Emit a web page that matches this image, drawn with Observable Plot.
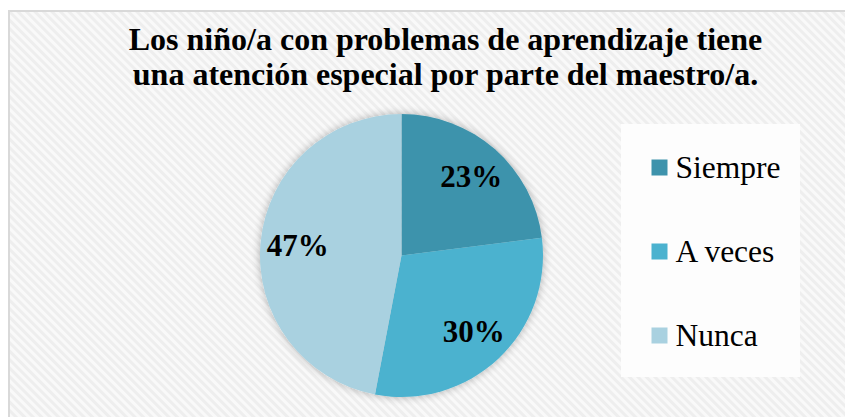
<!DOCTYPE html>
<html>
<head>
<meta charset="utf-8">
<script src="https://cdn.jsdelivr.net/npm/d3@7"></script>
<script src="https://cdn.jsdelivr.net/npm/@observablehq/plot@0.6"></script>
<style>
  html, body { margin: 0; padding: 0; background: #ffffff; }
  #chart svg { display: block; }
</style>
</head>
<body>
<div id="chart"></div>
<script>
const titleLines = ["Los niño/a con problemas de aprendizaje tiene", "una atención especial por parte del maestro/a."];
const categories = ["Siempre", "A veces", "Nunca"];
const values = [23, 30, 47];
const labels = ["23%", "30%", "47%"];
const colors = ["#3E93AC", "#4BB2CF", "#A9D1E0"];

const W = 845, H = 417;
const cx = 401.5, cy = 255.5, R = 141.5;
const serif = "'Liberation Serif', 'Times New Roman', serif";

const data = categories.map((c, i) => ({category: c, value: values[i], label: labels[i]}));
const arcs = d3.pie().sort(null).value(d => d.value)(data);
const labelData = arcs.map(a => {
  const r = R * 0.74;
  const [dx, dy] = d3.arc().innerRadius(r).outerRadius(r).centroid(a);
  return {label: a.data.label, x: cx + dx, y: cy + dy};
});

function background(index, scales, values, dimensions) {
  const g = d3.create("svg:g");
  const defs = g.append("defs");
  const pat = defs.append("pattern")
    .attr("id", "hatch")
    .attr("patternUnits", "userSpaceOnUse")
    .attr("width", 6).attr("height", 6)
    .attr("patternTransform", "rotate(45)");
  pat.append("rect").attr("width", 6).attr("height", 6).attr("fill", "#f9f9f9");
  pat.append("rect").attr("width", 6).attr("height", 3).attr("fill", "#eeeeee");
  const f = defs.append("filter").attr("id", "pieShadow")
    .attr("x", "-20%").attr("y", "-20%").attr("width", "140%").attr("height", "140%");
  f.append("feGaussianBlur").attr("in", "SourceAlpha").attr("stdDeviation", 4).attr("result", "b");
  f.append("feComponentTransfer").attr("in", "b").attr("result", "c")
    .append("feFuncA").attr("type", "linear").attr("slope", 0.3);
  const m = f.append("feMerge");
  m.append("feMergeNode").attr("in", "c");
  m.append("feMergeNode").attr("in", "SourceGraphic");
  g.append("rect").attr("x", 0).attr("y", 0).attr("width", dimensions.width).attr("height", dimensions.height).attr("fill", "#ffffff");
  g.append("rect").attr("x", 9).attr("y", 11).attr("width", dimensions.width).attr("height", dimensions.height)
    .attr("fill", "url(#hatch)").attr("stroke", "#d9d9d9").attr("stroke-width", 2);
  g.append("rect").attr("x", 621).attr("y", 124).attr("width", 179).attr("height", 253).attr("fill", "#fdfdfd");
  return g.node();
}

function pie(index, scales) {
  const g = d3.create("svg:g").attr("transform", `translate(${cx},${cy})`).attr("filter", "url(#pieShadow)");
  const arc = d3.arc().innerRadius(0).outerRadius(R);
  const color = scales.color || d3.scaleOrdinal(categories, colors);
  g.selectAll("path").data(arcs).join("path")
    .attr("d", arc)
    .attr("fill", d => color(d.data.category))
    .attr("stroke", "none");
  return g.node();
}

const legendY = categories.map((c, i) => ({category: c, y: 167 + i * 84}));

const svg = Plot.plot({
  width: W,
  height: H,
  margin: 0,
  x: {type: "identity", axis: null},
  y: {type: "identity", axis: null},
  color: {domain: categories, range: colors},
  style: {background: "white", fontFamily: serif},
  marks: [
    background,
    pie,
    Plot.text(labelData, {x: "x", y: "y", text: "label", fontSize: 31, fontWeight: "bold", fill: "black", fontFamily: serif, textAnchor: "middle", lineAnchor: "middle"}),
    Plot.dot(legendY, {x: 659, y: "y", fill: "category", symbol: "square", r: 9.03, stroke: "none"}),
    Plot.text(legendY, {x: 675, y: "y", text: "category", fontSize: 31.5, fill: "black", fontFamily: serif, textAnchor: "start", lineAnchor: "middle"}),
    Plot.text(titleLines.map((t, i) => ({t, y: 47 + i * 35})), {x: 445, y: "y", text: "t", fontSize: 32, fontWeight: "bold", fill: "black", fontFamily: serif, textAnchor: "middle", lineAnchor: "bottom", dy: 2})
  ]
});
document.getElementById("chart").appendChild(svg);
</script>
</body>
</html>
